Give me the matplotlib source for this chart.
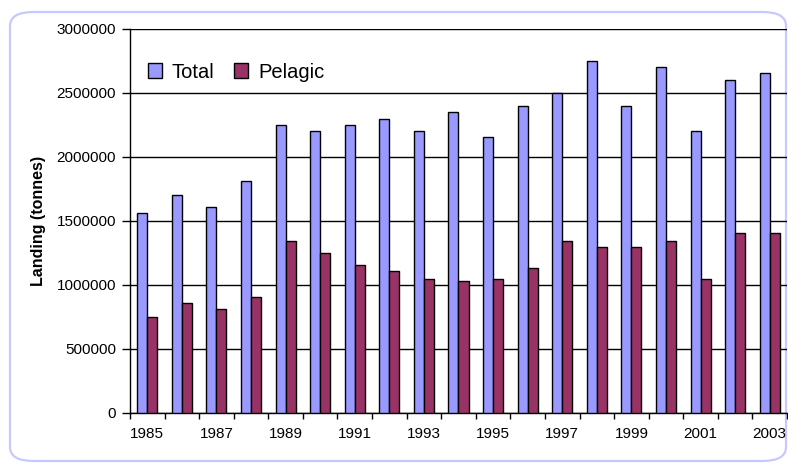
import matplotlib
matplotlib.use("Agg")
import matplotlib.pyplot as plt
import numpy as np
from matplotlib.patches import FancyBboxPatch

years = list(range(1985, 2004))
total = [1560000, 1700000, 1610000, 1810000, 2250000, 2200000, 2250000, 2300000,
         2200000, 2350000, 2160000, 2400000, 2500000, 2750000, 2400000, 2700000,
         2200000, 2600000, 2660000]
pelagic = [750000, 860000, 815000, 910000, 1345000, 1250000, 1160000, 1110000,
           1050000, 1030000, 1050000, 1130000, 1345000, 1300000, 1300000, 1345000,
           1050000, 1410000, 1410000]
yticks = [0, 500000, 1000000, 1500000, 2000000, 2500000, 3000000]

plt.rcParams['font.family'] = ['Liberation Sans', 'DejaVu Sans']

W, H = 788, 463
fig = plt.figure(figsize=(W / 100, H / 100), dpi=100)

# rounded border
border = FancyBboxPatch((10 / W, 1 - 461 / H), (776) / W, (449) / H,
                        boxstyle="round,pad=0,rounding_size=0.03",
                        transform=fig.transFigure, facecolor='none',
                        edgecolor='#c8c8ff', linewidth=1.6, zorder=-1)
fig.patches.append(border)

ax = fig.add_axes([130 / W, 1 - 413 / H, 657 / W, 384 / H])
ax.set_facecolor('none')
ax.set_zorder(2)

x = np.arange(len(years))
bw = 0.29
ax.bar(x - bw / 2, total, width=bw, color='#9999ff', edgecolor='black',
       linewidth=1.0, label='Total', zorder=3)
ax.bar(x + bw / 2, pelagic, width=bw, color='#993366', edgecolor='black',
       linewidth=1.0, label='Pelagic', zorder=3)

ax.set_xlim(-0.5, len(years) - 0.5)
ax.set_ylim(0, 3000000)
ax.set_yticks(yticks)
ax.set_yticklabels([str(v) for v in yticks], fontsize=11)
ax.yaxis.grid(True, color='black', linewidth=1.0, zorder=0)
ax.set_axisbelow(True)

# category boundaries as ticks, labels at every other year
ax.set_xticks(np.arange(-0.5, len(years)), minor=False)
ax.set_xticklabels([])
ax.set_xticks(x, minor=True)
ax.set_xticklabels([str(y) if i % 2 == 0 else '' for i, y in enumerate(years)],
                   minor=True, fontsize=11)
ax.tick_params(axis='x', which='minor', length=0, pad=10)
ax.tick_params(axis='x', which='major', length=4, width=1, direction='out')
ax.tick_params(axis='y', length=6, width=1, direction='out', pad=4)

for s in ['top', 'right']:
    ax.spines[s].set_visible(False)
ax.spines['left'].set_linewidth(1.0)
ax.spines['bottom'].set_linewidth(1.0)

ax.set_ylabel('Landing (tonnes)', fontsize=11.5, fontweight='bold', labelpad=8)

leg = ax.legend(loc='center left', bbox_to_anchor=(0.027, 0.888), ncol=2,
                frameon=False, fontsize=14.5, handlelength=0.7, handleheight=0.7,
                handletextpad=0.5, columnspacing=0.95, borderaxespad=0,
                borderpad=0)

fig.savefig('out.png', dpi=100, facecolor='white')
